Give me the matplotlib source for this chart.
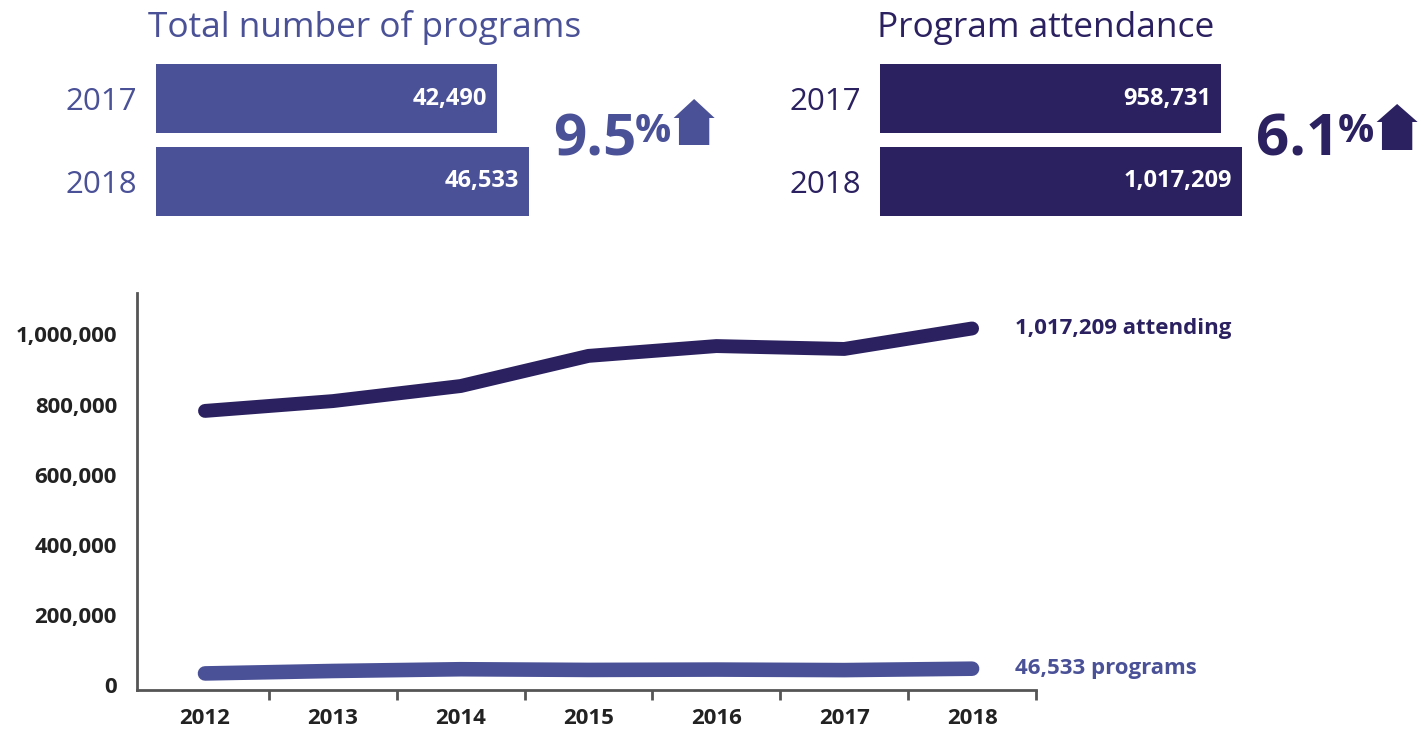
import matplotlib
matplotlib.use('Agg')
import matplotlib.pyplot as plt
from matplotlib.patches import Polygon
from matplotlib.ticker import FuncFormatter

plt.rcParams['font.family'] = ['Open Sans', 'DejaVu Sans']

# colours
prog_c = '#4a5197'
att_c = '#2b2160'
axis_c = '#555555'
text_c = '#222222'

# data
bar_years = ['2017', '2018']
prog_bars = [42490, 46533]
att_bars = [958731, 1017209]
prog_change = '9.5'
att_change = '6.1'

years = ['2012', '2013', '2014', '2015', '2016', '2017', '2018']
attendance = [782000, 810000, 853000, 939000, 967000, 958731, 1017209]
programs = [33000, 40000, 45000, 43000, 44000, 42490, 46533]
y_ticks = [0, 200000, 400000, 600000, 800000, 1000000]

W, H = 1420, 731
fig = plt.figure(figsize=(W/100, H/100), dpi=100)

def px_axes(left, top, right, bottom):
    return fig.add_axes([left/W, 1 - bottom/H, (right-left)/W, (bottom-top)/H])

def top_bars(ax, values, color):
    ax.barh(range(len(values)), values, height=0.83, color=color)
    ax.set_ylim(1.5, -0.5)
    ax.set_xlim(0, max(values))
    ax.set_yticks(range(len(values)))
    ax.set_yticklabels(bar_years, fontsize=22.5, color=color)
    ax.tick_params(axis='y', length=0, pad=13.5)
    ax.set_xticks([])
    for s in ax.spines.values():
        s.set_visible(False)
    for i, v in enumerate(values):
        ax.annotate(f'{v:,}', xy=(v, i), xytext=(-7, 0), textcoords='offset points',
                    ha='right', va='center', fontsize=17, fontweight='bold', color='white')

# top left: total number of programs (bar 2018 spans 156 -> 529 px)
ax1 = px_axes(156, 57, 529, 223)
top_bars(ax1, prog_bars, prog_c)

# top right: program attendance (bar 2018 spans 880 -> 1242 px)
ax2 = px_axes(880, 57, 1242, 223)
top_bars(ax2, att_bars, att_c)

# overlay in pixel coords for titles, percentages and arrows
ov = fig.add_axes([0, 0, 1, 1])
ov.set_xlim(0, W)
ov.set_ylim(H, 0)
ov.axis('off')
ov.patch.set_alpha(0)

ov.text(148, 37, 'Total number of programs', fontsize=25.4, color=prog_c, ha='left', va='baseline')
ov.text(877, 37, 'Program attendance', fontsize=25.4, color=att_c, ha='left', va='baseline')

def px_right(t):
    fig.canvas.draw()
    return t.get_window_extent().x1 * W / fig.bbox.width

def change_mark(x, num, color, arrow_top, arrow_bot, roof_y):
    t = ov.text(x, 155, num, fontsize=42, fontweight='bold', color=color,
                ha='left', va='baseline')
    p = ov.text(px_right(t) - 2, 142, '%', fontsize=29, fontweight='bold', color=color,
                ha='left', va='baseline')
    l = px_right(p) + 3
    r = l + 41
    mid = (l + r) / 2
    inset = (r - l) * 0.13
    pts = [(l, roof_y), (mid, arrow_top), (r, roof_y), (r - inset, roof_y),
           (r - inset, arrow_bot), (l + inset, arrow_bot), (l + inset, roof_y)]
    ov.add_patch(Polygon(pts, closed=True, color=color, lw=0))

change_mark(553, prog_change, prog_c, 99, 145, 118)
change_mark(1256, att_change, att_c, 104, 150, 122)

# main line chart
ax = px_axes(137, 293, 1036, 690)
x = list(range(len(years)))
ax.plot(x, attendance, color=att_c, lw=10, solid_capstyle='round')
ax.plot(x, programs, color=prog_c, lw=10.5, solid_capstyle='round')
ax.set_xlim(-0.532, 6.5)
ax.set_ylim(-14265, 1118400)

ax.set_xticks(x)
ax.set_xticklabels(years)
ax.set_xticks([i + 0.5 for i in x], minor=True)
ax.tick_params(axis='x', which='major', length=0, pad=13, labelsize=16, labelcolor=text_c)
ax.tick_params(axis='x', which='minor', length=7.5, width=2, color=axis_c, direction='out')
for lab in ax.get_xticklabels():
    lab.set_fontweight('bold')

ax.set_yticks(y_ticks)
ax.yaxis.set_major_formatter(FuncFormatter(lambda v, p: f'{int(v):,}'))
ax.tick_params(axis='y', length=0, pad=14.4, labelsize=16, labelcolor=text_c)
for lab in ax.get_yticklabels():
    lab.set_fontweight('bold')

for s in ['top', 'right']:
    ax.spines[s].set_visible(False)
for s in ['left', 'bottom']:
    ax.spines[s].set_color(axis_c)
    ax.spines[s].set_linewidth(2)

ax.annotate(f'{attendance[-1]:,} attending', xy=(6, attendance[-1]), xytext=(31, 0),
            textcoords='offset points', ha='left', va='center', fontsize=16,
            fontweight='bold', color=att_c, annotation_clip=False)
ax.annotate(f'{programs[-1]:,} programs', xy=(6, programs[-1]), xytext=(31, 0),
            textcoords='offset points', ha='left', va='center', fontsize=16,
            fontweight='bold', color=prog_c, annotation_clip=False)

fig.savefig('out.png', dpi=100)
